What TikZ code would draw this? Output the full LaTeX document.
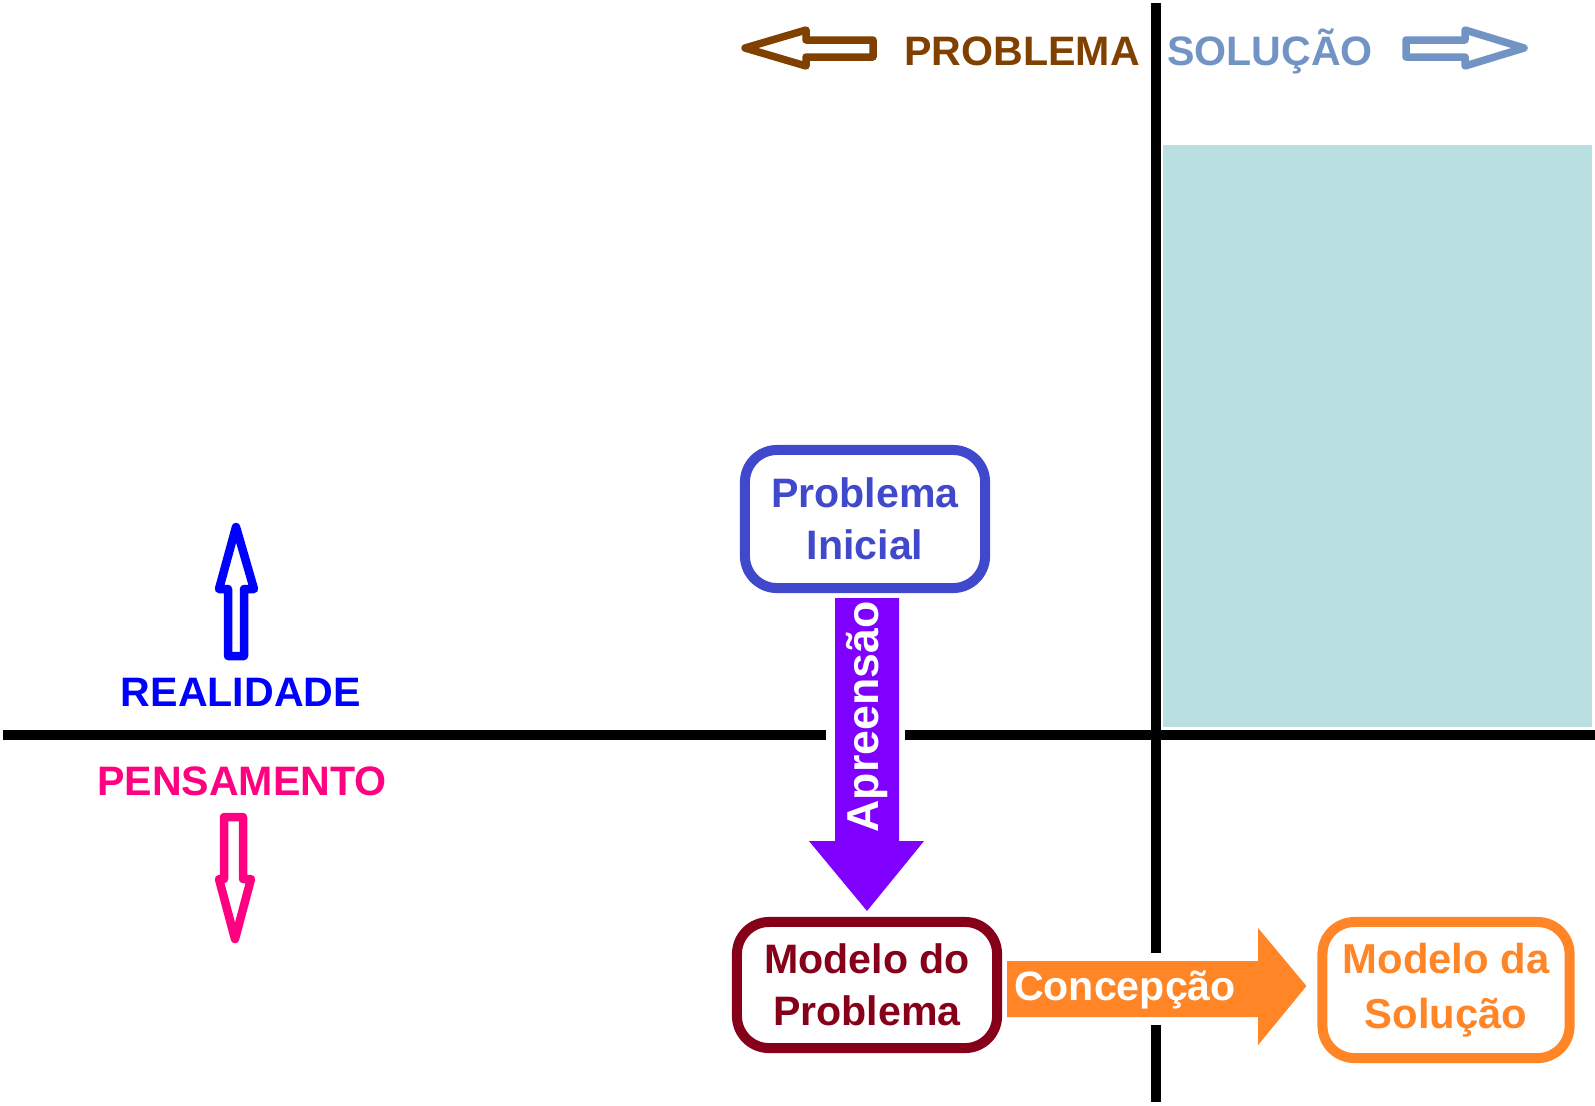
\documentclass[tikz,border=0pt]{standalone}
\usepackage{fontspec}
\setmainfont{Liberation Sans}
\usetikzlibrary{calc}
\definecolor{brownA}{RGB}{128,64,0}
\definecolor{steelA}{RGB}{114,148,196}
\definecolor{realB}{RGB}{0,0,255}
\definecolor{pinkA}{RGB}{255,0,128}
\definecolor{piBlue}{RGB}{64,72,204}
\definecolor{purpA}{RGB}{128,0,255}
\definecolor{darkRed}{RGB}{134,0,26}
\definecolor{orangeA}{RGB}{255,133,38}
\definecolor{cyanA}{RGB}{186,223,225}
\begin{document}
\begin{tikzpicture}[x=0.01cm,y=-0.01cm,
  lbl/.style={font=\bfseries\fontsize{11.7}{14.8}\selectfont, inner sep=0pt, anchor=base},
  hollow/.style={line width=0.075cm, fill=white, line join=round},
  axisline/.style={line width=0.1cm, draw=black},
  rbox/.style={draw, line width=0.1cm, rounded corners=0.32cm, fill=white, inner sep=0pt, align=center, font=\bfseries\fontsize{11.7}{14.8}\selectfont}
]
\useasboundingbox (0,0) rectangle (1595,1105);
% solution area
\fill[cyanA] (1163,145) rectangle (1592,727);
% axes
\coordinate (hL) at (3,735);
\coordinate (hG1) at (826,735);
\coordinate (hG2) at (905,735);
\coordinate (hR) at (1595,735);
\draw[axisline] (hL) -- (hG1);
\draw[axisline] (hG2) -- (hR);
\coordinate (vT) at (1156,3);
\coordinate (vG1) at (1156,953);
\coordinate (vG2) at (1156,1025);
\coordinate (vB) at (1156,1102);
\draw[axisline] (vT) -- (vG1);
\draw[axisline] (vG2) -- (vB);
% top labels and arrows
\draw[hollow, draw=brownA] (745,48) -- (806,30) -- (806,40) -- (873,40) -- (873,57) -- (806,57) -- (806,66) -- cycle;
\node[lbl, text=brownA] (tprob) at (1022,65) {PROBLEMA};
\node[lbl, text=steelA] (tsol) at (1270,65) {SOLUÇÃO};
\draw[hollow, draw=steelA] (1524,48) -- (1465,30) -- (1465,40) -- (1406,40) -- (1406,57) -- (1465,57) -- (1465,66) -- cycle;
% left labels and arrows
\draw[hollow, draw=realB, line width=0.085cm] (236,527) -- (254,589) -- (244,589) -- (244,656) -- (228,656) -- (228,589) -- (219,589) -- cycle;
\node[lbl, text=realB] (real) at (241,706) {REALIDADE};
\node[lbl, text=pinkA] (pens) at (242,795) {PENSAMENTO};
\draw[hollow, draw=pinkA, line width=0.085cm] (224,817) -- (243,817) -- (243,879) -- (251,879) -- (235,939) -- (219,879) -- (224,879) -- cycle;
% boxes
\node[rbox, draw=piBlue, text=piBlue, minimum width=2.4cm, minimum height=1.38cm] (pi) at (865,519) {Problema\\Inicial};
\node[rbox, draw=darkRed, text=darkRed, minimum width=2.6cm, minimum height=1.26cm] (mp) at (867,985) {Modelo do\\Problema};
\node[rbox, draw=orangeA, text=orangeA, minimum width=2.47cm, minimum height=1.36cm, font=\bfseries\fontsize{11.9}{15.6}\selectfont] (ms) at (1446,990) {Modelo da\\Solução};
% Apreensao arrow
\fill[purpA] ($(pi.south)+(-30,5)$) -- ($(pi.south)+(34,5)$) -- ($(pi.south)+(34,248)$) -- ($(pi.south)+(59,248)$) -- ($(mp.north)+(0,-6)$) -- ($(pi.south)+(-56,248)$) -- ($(pi.south)+(-30,248)$) -- cycle;
\node[lbl, text=white, rotate=90, font=\bfseries\fontsize{12.7}{15}\selectfont] (ap) at (878,717) {Apreensão};
% Concepcao arrow
\fill[orangeA] ($(mp.east)+(5,-24)$) -- ($(mp.east)+(256,-24)$) -- ($(mp.east)+(256,-57)$) -- ($(ms.west)+(-11,-4)$) -- ($(mp.east)+(256,60)$) -- ($(mp.east)+(256,32)$) -- ($(mp.east)+(5,32)$) -- cycle;
\node[lbl, text=white] (cc) at (1125,1000) {Concepção};
\end{tikzpicture}
\end{document}
